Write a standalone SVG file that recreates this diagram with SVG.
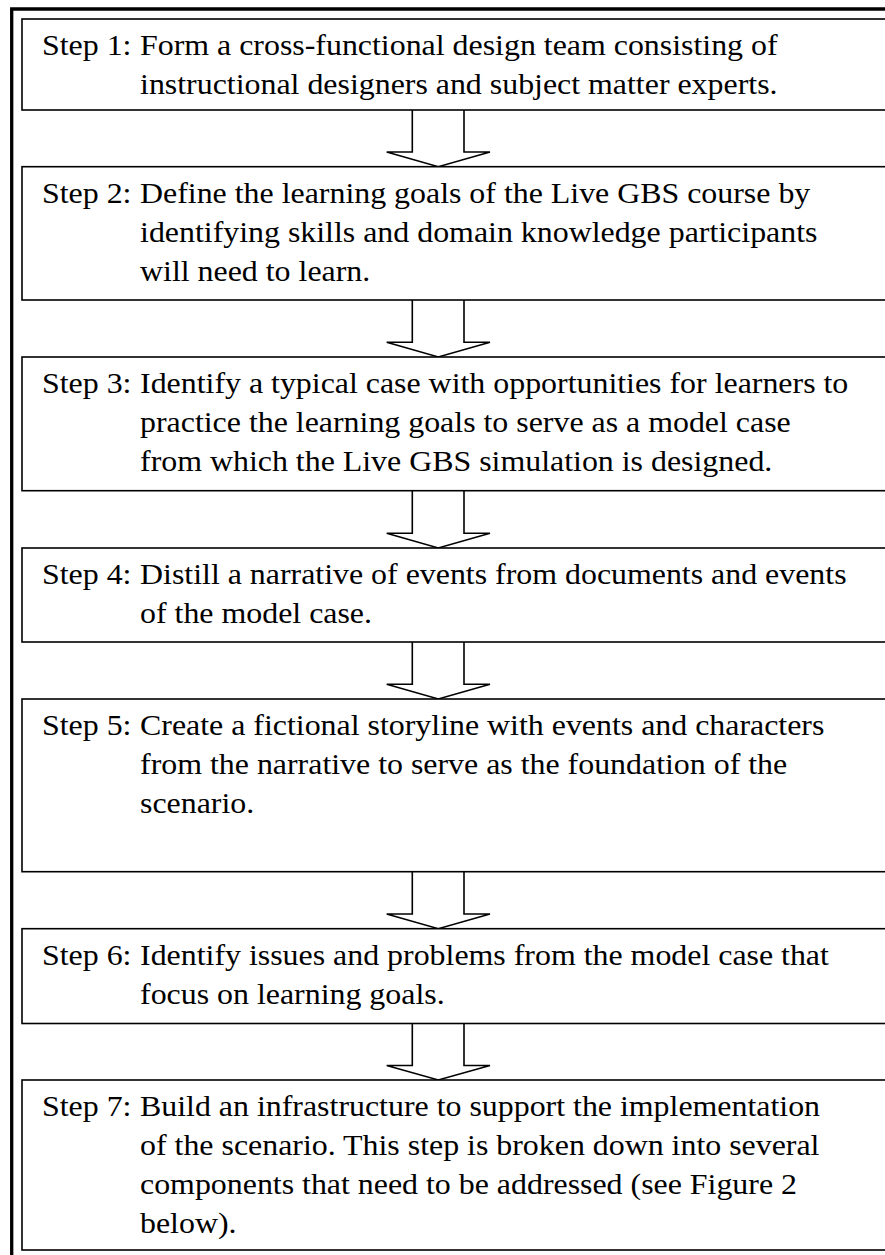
<svg xmlns="http://www.w3.org/2000/svg" width="885" height="1255" viewBox="0 0 885 1255">
  <style>
    .box { fill: #ffffff; stroke: #000000; stroke-width: 1.6; }
    .arrow { fill: #ffffff; stroke: #000000; stroke-width: 1.6; stroke-linejoin: miter; }
    .frame { fill: none; stroke: #000000; stroke-width: 3.3; }
    text { font-family: "Liberation Serif", "Times New Roman", serif; font-size: 29px; fill: #000000; }
  </style>
  <rect x="0" y="0" width="885" height="1255" fill="#ffffff"/>
  <!-- outer frame (left and top edges) -->
  <path class="frame" d="M11.7 1262 V9 H892"/>

  <!-- arrows between steps: shaft 412..464, head 387..490, tip at 438 -->
  <g id="connectors">
    <path class="arrow" d="M412.3 110 V152 H386.7 L438.3 166.7 L490 152 H464 V110"/>
    <path class="arrow" d="M412.3 300 V342.3 H386.7 L438.3 357 L490 342.3 H464 V300"/>
    <path class="arrow" d="M412.3 490.7 V533.3 H386.7 L438.3 548 L490 533.3 H464 V490.7"/>
    <path class="arrow" d="M412.3 642 V684.3 H386.7 L438.3 699 L490 684.3 H464 V642"/>
    <path class="arrow" d="M412.3 871.7 V914 H386.7 L438.3 928.7 L490 914 H464 V871.7"/>
    <path class="arrow" d="M412.3 1023.5 V1065.5 H386.7 L438.3 1080 L490 1065.5 H464 V1023.5"/>
  </g>

  <g id="step1">
    <rect class="box" x="22" y="19" width="880" height="91"/>
    <g transform="scale(1.1 1)">
      <text x="38.2" y="55">Step 1:</text>
      <text x="127.3" y="55">Form a cross-functional design team consisting of</text>
      <text x="127.3" y="94">instructional designers and subject matter experts.</text>
    </g>
  </g>

  <g id="step2">
    <rect class="box" x="22" y="166.7" width="880" height="133.3"/>
    <g transform="scale(1.1 1)">
      <text x="38.2" y="203">Step 2:</text>
      <text x="127.3" y="203">Define the learning goals of the Live GBS course by</text>
      <text x="127.3" y="242">identifying skills and domain knowledge participants</text>
      <text x="127.3" y="281">will need to learn.</text>
    </g>
  </g>

  <g id="step3">
    <rect class="box" x="22" y="357" width="880" height="133.7"/>
    <g transform="scale(1.1 1)">
      <text x="38.2" y="393">Step 3:</text>
      <text x="127.3" y="393">Identify a typical case with opportunities for learners to</text>
      <text x="127.3" y="432">practice the learning goals to serve as a model case</text>
      <text x="127.3" y="471">from which the Live GBS simulation is designed.</text>
    </g>
  </g>

  <g id="step4">
    <rect class="box" x="22" y="548" width="880" height="94"/>
    <g transform="scale(1.1 1)">
      <text x="38.2" y="584">Step 4:</text>
      <text x="127.3" y="584">Distill a narrative of events from documents and events</text>
      <text x="127.3" y="623">of the model case.</text>
    </g>
  </g>

  <g id="step5">
    <rect class="box" x="22" y="699" width="880" height="172.7"/>
    <g transform="scale(1.1 1)">
      <text x="38.2" y="735">Step 5:</text>
      <text x="127.3" y="735">Create a fictional storyline with events and characters</text>
      <text x="127.3" y="774">from the narrative to serve as the foundation of the</text>
      <text x="127.3" y="813">scenario.</text>
    </g>
  </g>

  <g id="step6">
    <rect class="box" x="22" y="928.7" width="880" height="94.8"/>
    <g transform="scale(1.1 1)">
      <text x="38.2" y="965">Step 6:</text>
      <text x="127.3" y="965">Identify issues and problems from the model case that</text>
      <text x="127.3" y="1004">focus on learning goals.</text>
    </g>
  </g>

  <g id="step7">
    <rect class="box" x="22" y="1080" width="880" height="170"/>
    <g transform="scale(1.1 1)">
      <text x="38.2" y="1116">Step 7:</text>
      <text x="127.3" y="1116">Build an infrastructure to support the implementation</text>
      <text x="127.3" y="1155">of the scenario. This step is broken down into several</text>
      <text x="127.3" y="1194">components that need to be addressed (see Figure 2</text>
      <text x="127.3" y="1233">below).</text>
    </g>
  </g>
</svg>
